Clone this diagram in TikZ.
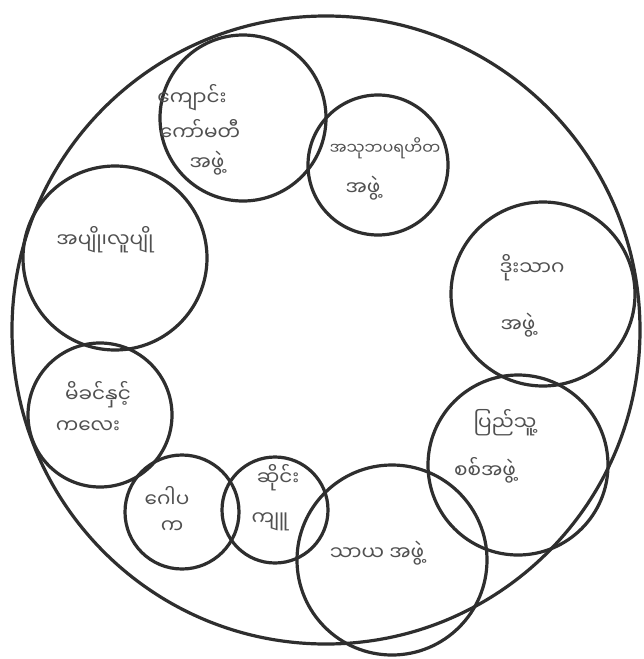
\documentclass[tikz,border=0pt]{standalone}
\usepackage{fontspec}
\newfontfamily\myan[Script=Myanmar]{Noto Sans Myanmar UI}
\definecolor{pencil}{HTML}{2E2E2E}
\definecolor{ink}{HTML}{505050}
\begin{document}
\begin{tikzpicture}[x=1pt,y=-1pt,
  ring/.style={draw=pencil,line width=3.2pt,circle,inner sep=0pt},
  lbl/.style={text=ink,font=\myan\fontsize{20}{24}\selectfont,inner sep=0pt},
  lblsm/.style={lbl,font=\myan\fontsize{16}{20}\selectfont}]
\useasboundingbox (0,0) rectangle (643,659);
\fill[white] (0,0) rectangle (643,659);
% big circle
\node[ring,minimum size=628pt] (big) at (326,330) {};
% small circles
\node[ring,minimum size=166pt] (c1) at (243,118) {};
\node[ring,minimum size=140pt] (c2) at (378,165) {};
\node[ring,minimum size=184pt] (c3) at (543,294) {};
\node[ring,minimum size=184pt] (c4) at (115,258) {};
\node[ring,minimum size=144pt] (c5) at (100,415) {};
\node[ring,minimum size=114pt] (c6) at (182,512) {};
\node[ring,minimum size=106pt] (c7) at (275,510) {};
\node[ring,minimum size=190pt] (c8) at (392,560) {};
\node[ring,minimum size=180pt] (c9) at (518,465) {};
% labels
\node[lbl] (t1a) at (192,98) {ကျောင်း};
\node[lbl] (t1b) at (200,130) {ကော်မတီ};
\node[lbl] (t1c) at (207,163) {အဖွဲ့};
\node[lblsm] (t2a) at (385,148) {အသုဘပရဟိတ};
\node[lbl] (t2b) at (363,188) {အဖွဲ့};
\node[lbl] (t3a) at (532,268) {ဒိုးသာဂ};
\node[lbl] (t3b) at (518,325) {အဖွဲ့};
\node[lbl] (t4) at (105,240) {အပျို၊လူပျို};
\node[lbl] (t5a) at (98,395) {မိခင်နှင့်};
\node[lbl] (t5b) at (88,427) {ကလေး};
\node[lbl] (t6a) at (167,497) {ဂေါပ};
\node[lbl] (t6b) at (172,527) {က};
\node[lbl] (t7a) at (278,478) {ဆိုင်း};
\node[lbl] (t7b) at (270,522) {ကျူ};
\node[lbl] (t8) at (377,553) {သာယ အဖွဲ့};
\node[lbl] (t9a) at (505,423) {ပြည်သူ့};
\node[lbl] (t9b) at (485,470) {စစ်အဖွဲ့};
\end{tikzpicture}
\end{document}
